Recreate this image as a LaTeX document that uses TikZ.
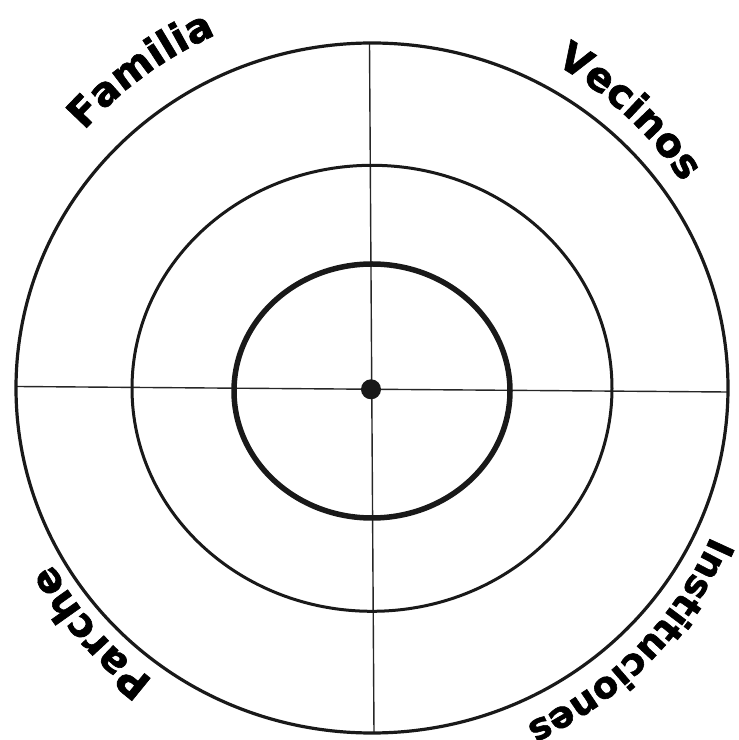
\documentclass[tikz,border=0pt]{standalone}
\usepackage{fontspec}
\newfontfamily\heavyfont[FakeBold=1.6]{DejaVu Sans Bold}
\usetikzlibrary{decorations.text}
\tikzset{
  ring/.style={draw=black!90, line width=#1},
  axis/.style={draw=black!85, line width=1.4pt},
  lbl/.style 2 args={decorate, decoration={text along path, text align=center,
     text={|\heavyfont\fontsize{#2}{#2}\selectfont|#1}}}
}
\begin{document}
\begin{tikzpicture}[x=1pt,y=1pt]
\useasboundingbox (0,0) rectangle (739,740);
\clip (0,0) rectangle (739,740);
\coordinate (C) at (372,352);
% axes
\coordinate (vt) at (369.5,697);
\coordinate (vb) at (374,7);
\coordinate (hl) at (17,353.5);
\coordinate (hr) at (727,348);
\draw[axis] (vt) -- (vb);
\draw[axis] (hl) -- (hr);
% circles
\draw[ring=3.2pt] (372,352) ellipse [x radius=356, y radius=345];
\draw[ring=3pt] (372,351.7) ellipse [x radius=240, y radius=223];
\draw[ring=5.5pt] (372,349) ellipse [x radius=138, y radius=127];
\fill[black!90] (371,350.7) circle [radius=10];
% labels
\path[lbl={Familia}{40}, shift={(C)}] (166:386) arc[start angle=166, end angle=86, radius=386];
\path[lbl={Vecinos}{40}, shift={(C)}] (87:372) arc[start angle=87, end angle=7, radius=372];
\path[lbl={Parche}{40}, shift={(C)}] (261:365) arc[start angle=261, end angle=181, radius=365];
\path[lbl={Instituciones}{37}, shift={(C)}] (5.5:370) arc[start angle=5.5, end angle=-94.5, radius=370];
\end{tikzpicture}
\end{document}
